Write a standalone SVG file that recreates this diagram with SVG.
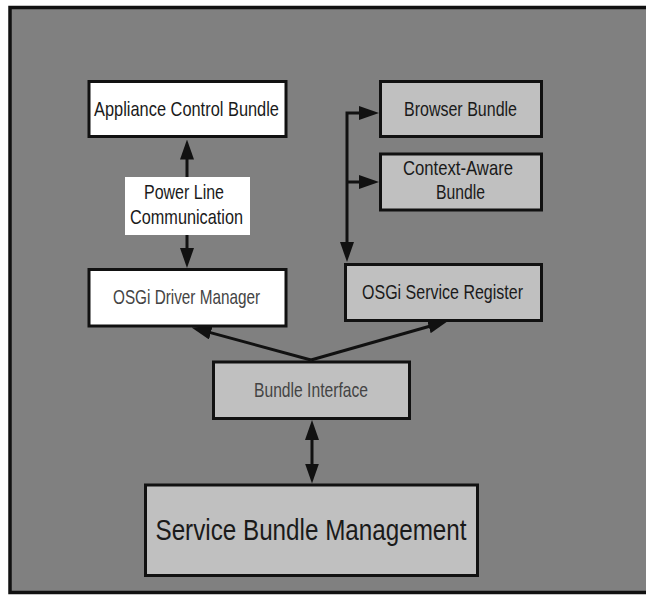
<svg xmlns="http://www.w3.org/2000/svg" width="646" height="595" viewBox="0 0 646 595">
<style>
.box{stroke:#111;stroke-width:3}
.w{fill:#ffffff}
.g{fill:#c0c0c0}
text{font-family:"Liberation Sans",Arial,sans-serif;font-size:21px;fill:#1a1a1a;text-anchor:middle}
.soft{fill:#444}
.con{fill:none;stroke:#111;stroke-width:3;marker-end:url(#ah)}
</style>
<defs>
<marker id="ah" markerUnits="userSpaceOnUse" markerWidth="20" markerHeight="14" refX="10" refY="7" orient="auto-start-reverse">
<path d="M0,0 L20,7 L0,14 z" fill="#111"/>
</marker>
</defs>
<rect x="0" y="0" width="646" height="595" fill="#ffffff"/>
<rect id="frame" x="10" y="7.5" width="700" height="585" fill="#808080" stroke="#111" stroke-width="3.5"/>
<g id="connectors">
<path class="con" d="M187,177 V149.5"/>
<path class="con" d="M187,235 V258"/>
<path class="con" d="M369,113 H347 V252" marker-start="url(#ah)"/>
<path class="con" d="M347,182 H369"/>
<path class="con" d="M311,360 L201.2,330.1"/>
<path class="con" d="M311,360 L438.4,323.7"/>
<path class="con" d="M312,430 V473.5" marker-start="url(#ah)"/>
</g>
<g id="appliance">
<rect class="box w" x="89" y="81.5" width="197" height="55"/>
<text x="186.5" y="116" textLength="185" lengthAdjust="spacingAndGlyphs">Appliance Control Bundle</text>
</g>
<g id="browser">
<rect class="box g" x="380.5" y="81.5" width="161" height="55"/>
<text x="460.5" y="116" textLength="113" lengthAdjust="spacingAndGlyphs">Browser Bundle</text>
</g>
<g id="context">
<rect class="box g" x="380.5" y="154" width="161" height="56"/>
<text x="458" y="175" textLength="110" lengthAdjust="spacingAndGlyphs">Context-Aware</text>
<text x="460.5" y="199" textLength="49" lengthAdjust="spacingAndGlyphs">Bundle</text>
</g>
<g id="plc">
<rect x="125" y="177" width="125" height="58" fill="#ffffff"/>
<text x="184" y="199" textLength="80" lengthAdjust="spacingAndGlyphs">Power Line</text>
<text x="186.5" y="224" textLength="113" lengthAdjust="spacingAndGlyphs">Communication</text>
</g>
<g id="driver">
<rect class="box w" x="89" y="269.5" width="197" height="56.5"/>
<text class="soft" x="186.5" y="304" textLength="147" lengthAdjust="spacingAndGlyphs">OSGi Driver Manager</text>
</g>
<g id="register">
<rect class="box g" x="345.5" y="264.5" width="196" height="56"/>
<text x="442.5" y="299" textLength="161" lengthAdjust="spacingAndGlyphs">OSGi Service Register</text>
</g>
<g id="interface">
<rect class="box g" x="213.5" y="362" width="196" height="56.5"/>
<text class="soft" x="311" y="397" textLength="114" lengthAdjust="spacingAndGlyphs">Bundle Interface</text>
</g>
<g id="sbm">
<rect class="box g" x="145.5" y="485" width="332" height="90.5"/>
<text x="311" y="540" style="font-size:30px" textLength="311" lengthAdjust="spacingAndGlyphs">Service Bundle Management</text>
</g>
</svg>
